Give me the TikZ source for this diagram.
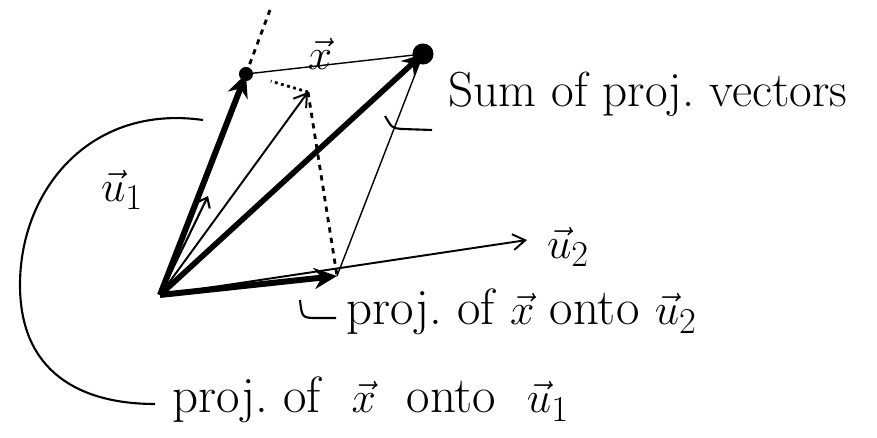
\documentclass[tikz,border=0pt]{standalone}
\usepackage{amsmath,amssymb}
\usepackage{tikz}
\usetikzlibrary{arrows.meta,positioning,calc}

\tikzset{
  thinvec/.style={line width=1.1pt,-{Straight Barb[length=7pt,width=9pt]}},
  projvec/.style={line width=3.4pt,-{Stealth[length=13pt,width=12pt]}},
  sumvec/.style={line width=3.2pt,-{Stealth[length=12pt,width=11pt]}},
  unitmark/.style={line width=1.2pt,-{Straight Barb[length=5pt,width=8pt]}},
  guide/.style={line width=1.6pt,dashed},
  side/.style={line width=0.8pt},
  lead/.style={line width=1.2pt},
  note/.style={inner sep=0pt,font=\fontsize{29}{34}\selectfont},
}

\begin{document}
\begin{tikzpicture}[x=0.02cm,y=-0.02cm]
  \useasboundingbox (0,0) rectangle (877,438);
  % points of the sketch
  \coordinate (o) at (160,295);
  \coordinate (p1) at (246,74);
  \coordinate (p2) at (337,276);
  \coordinate (x) at (308,92);
  \coordinate (s) at (423,54);
  \coordinate (u1) at (208,196);
  \coordinate (u2) at (527,240);
  \coordinate (top) at (270,10);

  % parallelogram and drop lines
  \draw[guide] (p1) -- (top);
  \draw[side] (p1) -- (s);
  \draw[side] (p2) -- (s);
  \draw[guide] (x) -- (p2);
  \draw[guide,dotted] (x) -- ($(x)!0.6!(p1)$);

  % vectors
  \draw[thinvec] (o) -- (u2);
  \draw[thinvec] (o) -- (x);
  \draw[unitmark] (o) -- (u1);
  \draw[projvec] (o) -- (p2);
  \draw[projvec] (o) -- (p1);
  \draw[sumvec] (o) -- (s);
  \fill (s) circle (6pt);
  \fill (p1) circle (4pt);

  % labels
  \node[note] (xlbl) at (320,54) {$\vec{x}$};
  \node[note] (u1lbl) at (122,190) {$\vec{u}_1$};
  \node[note] (u2lbl) at (568,247) {$\vec{u}_2$};
  \node[note,anchor=west,font=\fontsize{28}{33}\selectfont] (sumlbl) at (448,94) {Sum of proj.\ vectors};
  \node[note,anchor=west] (proj2) at (346,312) {proj.\ of $\vec{x}$ onto $\vec{u}_2$};
  \node[note,anchor=west] (proj1) at (172,400) {proj.\ of \ $\vec{x}$ \ onto \ $\vec{u}_1$};

  % leaders
  \coordinate (h1) at (385,116);
  \coordinate (h2) at (300,300);
  \coordinate (h3) at (203,120);
  \draw[lead] (h1) .. controls (392,128) .. (402,129) -- (432,130);
  \draw[lead] (h2) .. controls (302,318) .. (318,318) -- (336,318);
  \draw[lead] (h3) .. controls (90,104) and (20,190) .. (20,285)
    .. controls (20,372) and (80,404) .. (155,404);
\end{tikzpicture}
\end{document}
